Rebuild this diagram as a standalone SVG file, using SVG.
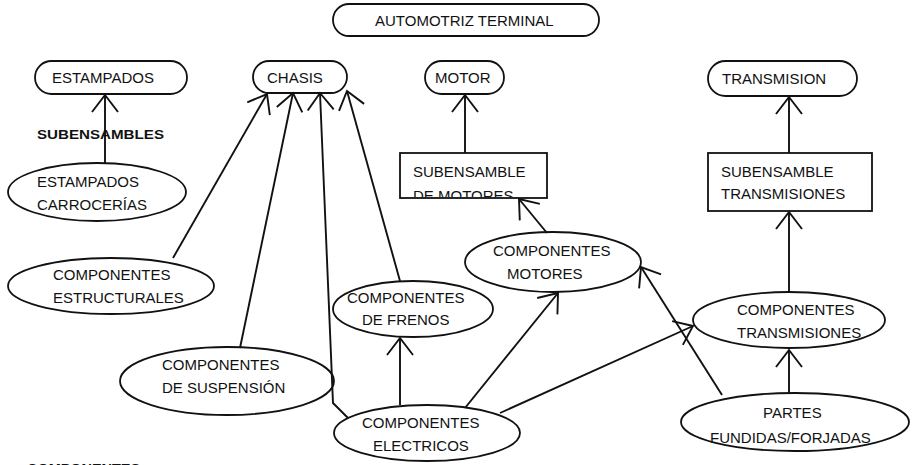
<svg xmlns="http://www.w3.org/2000/svg" width="912" height="465" viewBox="0 0 912 465">
<style>
.n{fill:#fff;stroke:#111;stroke-width:1.8}
.t{font-family:"Liberation Sans",Arial,sans-serif;font-size:15px;fill:#111}
.b{font-family:"Liberation Sans",Arial,sans-serif;font-size:13px;font-weight:bold;fill:#111}
.c{fill:none;stroke:#111;stroke-width:1.9;marker-end:url(#ah)}
</style>
<defs>
<marker id="ah" markerUnits="userSpaceOnUse" markerWidth="40" markerHeight="40" viewBox="-20 -20 40 40" refX="0" refY="0" orient="auto" overflow="visible">
<path d="M-17,-13 L0,0 L-17,13" fill="none" stroke="#111" stroke-width="1.9"/>
</marker>
<clipPath id="clipMot"><rect x="400" y="153" width="147" height="44"/></clipPath>
</defs>
<rect width="912" height="465" fill="#fff"/>
<g id="automotriz"><rect class="n" x="333" y="4" width="266" height="32" rx="16"/><text class="t" x="375" y="26">AUTOMOTRIZ TERMINAL</text></g>
<g id="estampados"><rect class="n" x="35" y="61" width="152" height="33" rx="16.5"/><text class="t" x="52" y="83">ESTAMPADOS</text></g>
<g id="chasis"><rect class="n" x="253" y="61" width="94" height="32" rx="16"/><text class="t" x="267" y="83">CHASIS</text></g>
<g id="motor"><rect class="n" x="425" y="61" width="79" height="33" rx="16.5"/><text class="t" x="435" y="83">MOTOR</text></g>
<g id="transmision"><rect class="n" x="708" y="61" width="149" height="35" rx="17.5"/><text class="t" x="722" y="84">TRANSMISION</text></g>
<g id="sub-motores"><rect class="n" x="400" y="153" width="147" height="45"/><text class="t" x="413" y="177">SUBENSAMBLE</text><text class="t" x="413" y="201" clip-path="url(#clipMot)">DE MOTORES</text></g>
<g id="sub-transmisiones"><rect class="n" x="708" y="153" width="164" height="58"/><text class="t" x="721" y="177">SUBENSAMBLE</text><text class="t" x="721" y="199">TRANSMISIONES</text></g>
<g id="subensambles-label"><text class="b" x="37" y="139" textLength="127" lengthAdjust="spacingAndGlyphs">SUBENSAMBLES</text></g>
<g id="estampados-carrocerias"><ellipse class="n" cx="97" cy="192" rx="89" ry="29"/><text class="t" x="37" y="187">ESTAMPADOS</text><text class="t" x="37" y="210">CARROCERÍAS</text></g>
<g id="comp-estructurales"><ellipse class="n" cx="111" cy="286" rx="103" ry="28"/><text class="t" x="53" y="280">COMPONENTES</text><text class="t" x="53" y="303">ESTRUCTURALES</text></g>
<g id="comp-suspension"><ellipse class="n" cx="227" cy="381" rx="107" ry="34"/><text class="t" x="162" y="370">COMPONENTES</text><text class="t" x="162" y="393">DE SUSPENSIÓN</text></g>
<g id="comp-frenos"><ellipse class="n" cx="413" cy="309" rx="80" ry="28"/><text class="t" x="347" y="303">COMPONENTES</text><text class="t" x="362" y="325">DE FRENOS</text></g>
<g id="comp-electricos"><ellipse class="n" cx="427" cy="433" rx="93" ry="28"/><text class="t" x="362" y="428">COMPONENTES</text><text class="t" x="373" y="451">ELECTRICOS</text></g>
<g id="comp-motores"><ellipse class="n" cx="553" cy="262" rx="88" ry="30"/><text class="t" x="493" y="256">COMPONENTES</text><text class="t" x="507" y="279">MOTORES</text></g>
<g id="comp-transmisiones"><ellipse class="n" cx="789" cy="320" rx="96" ry="28"/><text class="t" x="737" y="315">COMPONENTES</text><text class="t" x="737" y="338">TRANSMISIONES</text></g>
<g id="partes-fundidas"><ellipse class="n" cx="795" cy="422" rx="114" ry="29"/><text class="t" x="763" y="418">PARTES</text><text class="t" x="710" y="443">FUNDIDAS/FORJADAS</text></g>
<g id="componentes-cut"><text class="b" x="27" y="473" textLength="113" lengthAdjust="spacingAndGlyphs">COMPONENTES</text></g>
<g id="connectors">
<line class="c" x1="105" y1="163" x2="105" y2="95"/>
<line class="c" x1="173" y1="258" x2="267" y2="94"/>
<line class="c" x1="240" y1="348" x2="293" y2="93"/>
<polyline class="c" points="348,418 333,403 320,93"/>
<line class="c" x1="400" y1="281" x2="347" y2="91"/>
<line class="c" x1="465" y1="153" x2="465" y2="95"/>
<line class="c" x1="547" y1="233" x2="519" y2="199"/>
<line class="c" x1="789" y1="153" x2="789" y2="97"/>
<line class="c" x1="789" y1="292" x2="789" y2="212"/>
<line class="c" x1="789" y1="393" x2="789" y2="350"/>
<line class="c" x1="722" y1="395" x2="641" y2="267"/>
<line class="c" x1="465" y1="408" x2="558" y2="293"/>
<line class="c" x1="500" y1="413" x2="693" y2="326"/>
<line class="c" x1="400" y1="405" x2="400" y2="338"/>
</g>
</svg>
